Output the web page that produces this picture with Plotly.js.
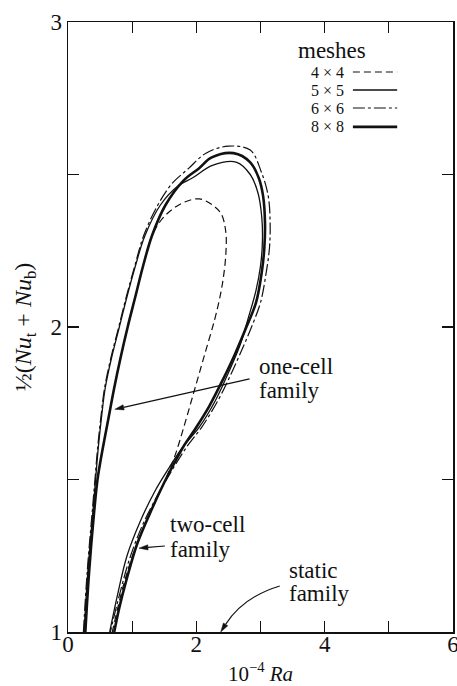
<!DOCTYPE html>
<html>
<head>
<meta charset="utf-8">
<script src="https://cdn.plot.ly/plotly-3.0.1.min.js"></script>
<style>html,body{margin:0;padding:0;background:#fff;}#chart{width:457px;height:686px;}</style>
</head>
<body>
<div id="chart"></div>
<script>
// ---- data ----
const meshLabels = ['4 × 4', '5 × 5', '6 × 6', '8 × 8'];

// 4 x 4 mesh (dashed)
const x4 = [0.27,0.33,0.41,0.46,0.54,0.63,0.72,0.82,0.93,1.05,1.17,1.31,1.45,1.62,1.82,2.05,2.25,2.39,2.46,2.46,2.42,2.36,2.28,2.13,1.98,1.83,1.67,1.50,1.28,1.04,0.86,0.69];
const y4 = [1.00,1.20,1.40,1.50,1.60,1.70,1.80,1.90,2.00,2.10,2.20,2.30,2.35,2.385,2.41,2.42,2.40,2.37,2.31,2.24,2.16,2.09,2.02,1.91,1.80,1.69,1.58,1.49,1.39,1.27,1.15,1.00];

// 5 x 5 mesh (thin solid)
const x5 = [0.25,0.31,0.39,0.43,0.47,0.52,0.58,0.68,0.80,0.92,1.05,1.20,1.44,1.70,1.95,2.25,2.63,2.84,2.96,3.02,3.03,3.00,2.93,2.81,2.68,2.50,2.30,2.04,1.80,1.58,1.35,1.12,0.92,0.77,0.65];
const y5 = [1.00,1.20,1.40,1.50,1.60,1.70,1.80,1.90,2.00,2.10,2.20,2.30,2.40,2.46,2.49,2.53,2.54,2.50,2.44,2.36,2.28,2.20,2.12,2.03,1.94,1.85,1.76,1.67,1.61,1.54,1.46,1.36,1.25,1.12,1.00];

// 6 x 6 mesh (dash-dot)
const x6 = [0.24,0.30,0.38,0.42,0.46,0.51,0.57,0.67,0.79,0.91,1.04,1.18,1.40,1.62,1.88,2.15,2.50,2.84,3.01,3.12,3.15,3.14,3.09,3.00,2.86,2.72,2.55,2.34,2.08,1.86,1.62,1.40,1.16,0.96,0.80,0.66];
const y6 = [1.00,1.20,1.40,1.50,1.60,1.70,1.80,1.90,2.00,2.10,2.20,2.30,2.40,2.47,2.52,2.57,2.593,2.58,2.51,2.43,2.34,2.26,2.18,2.08,2.00,1.93,1.85,1.76,1.67,1.61,1.53,1.45,1.35,1.24,1.12,1.00];

// 8 x 8 mesh (thick solid)
const x8 = [0.27,0.33,0.41,0.46,0.54,0.63,0.72,0.82,0.93,1.05,1.17,1.31,1.52,1.80,2.04,2.24,2.58,2.84,2.97,3.04,3.07,3.06,3.02,2.93,2.78,2.60,2.42,2.20,1.98,1.82,1.66,1.50,1.30,1.08,0.91,0.80,0.72];
const y8 = [1.00,1.20,1.40,1.50,1.60,1.70,1.80,1.90,2.00,2.10,2.20,2.30,2.40,2.48,2.52,2.556,2.57,2.54,2.49,2.43,2.34,2.26,2.18,2.08,2.00,1.91,1.83,1.74,1.665,1.615,1.555,1.49,1.40,1.29,1.17,1.08,1.00];

const xTickVals = [0,2,4,6];
const xTickText = ['0','2','4','6'];
const xMinorVals = [1,3,5];
const yTickVals = [1,2,3];
const yTickText = ['1','2','3'];
const yMinorVals = [1.5,2.5];

const staticOnset = [2.38, 1.0];   // where the static family begins (Ra·1e-4, Nu)

// ---- styles ----
const FONT = 'Liberation Serif, Times New Roman, serif';
const INK = '#111';
const meshStyles = [
  {width: 1.2, dash: '7px,4px'},
  {width: 1.3, dash: 'solid'},
  {width: 1.2, dash: '12px,3px,3px,3px'},
  {width: 2.6, dash: 'solid'}
];
const series = [[x4,y4],[x5,y5],[x6,y6],[x8,y8]];

const traces = series.map((s, i) => ({
  x: s[0], y: s[1], type: 'scatter', mode: 'lines', name: meshLabels[i],
  line: {color: INK, width: meshStyles[i].width, dash: meshStyles[i].dash, shape: 'spline', smoothing: 1},
  showlegend: false, hoverinfo: 'skip'
}));

// plot-area scale (px per data unit) used only to shape arrowheads
const KX = 385 / 6, KY = 610 / 2;
function arrowHead(tipX, tipY, dirX, dirY, len, half) {
  let px = dirX * KX, py = dirY * KY;
  const n = Math.hypot(px, py); px /= n; py /= n;
  const bx = tipX * KX - px * len, by = tipY * KY - py * len;
  const p1 = [(bx - py * half) / KX, (by + px * half) / KY];
  const p2 = [(bx + py * half) / KX, (by - px * half) / KY];
  return {
    head: {type: 'path', xref: 'x', yref: 'y', fillcolor: INK, line: {color: INK, width: 0.5},
      path: `M ${tipX},${tipY} L ${p1[0]},${p1[1]} L ${p2[0]},${p2[1]} Z`},
    base: [bx / KX, by / KY]
  };
}
function straightArrow(tipX, tipY, tailX, tailY) {
  const a = arrowHead(tipX, tipY, tipX - tailX, tipY - tailY, 9, 2.6);
  return [{type: 'line', xref: 'x', yref: 'y', x0: tailX, y0: tailY, x1: a.base[0], y1: a.base[1],
    line: {color: INK, width: 1.1}}, a.head];
}

// ---- legend drawn as annotations + sample lines ----
const legY = [2.836, 2.777, 2.718, 2.656];
const annotations = [];
const shapes = [];
annotations.push({x: 4.11, y: 2.905, xref: 'x', yref: 'y', text: 'meshes', showarrow: false,
  font: {family: FONT, size: 23, color: INK}, xanchor: 'center', yanchor: 'middle'});
meshLabels.forEach((lab, i) => {
  annotations.push({x: 4.33, y: legY[i], xref: 'x', yref: 'y', text: lab, showarrow: false,
    font: {family: FONT, size: 16, color: INK}, xanchor: 'right', yanchor: 'middle'});
  shapes.push({type: 'line', xref: 'x', yref: 'y', x0: 4.44, x1: 5.13, y0: legY[i], y1: legY[i],
    line: {color: INK, width: meshStyles[i].width, dash: meshStyles[i].dash}});
});

// ---- family labels ----
const lab = (x, y, t) => ({x, y, xref: 'x', yref: 'y', text: t, showarrow: false,
  font: {family: FONT, size: 23, color: INK}, xanchor: 'left', yanchor: 'middle'});
annotations.push(lab(2.945, 1.869, 'one-cell'));
annotations.push(lab(2.945, 1.793, 'family'));
annotations.push(lab(1.558, 1.351, 'two-cell'));
annotations.push(lab(1.558, 1.269, 'family'));
annotations.push(lab(3.413, 1.203, 'static'));
annotations.push(lab(3.413, 1.125, 'family'));

// arrows
shapes.push(...straightArrow(0.73, 1.73, 2.83, 1.83));
shapes.push(...straightArrow(1.106, 1.275, 1.51, 1.282));
// curved arrow to the static family
const ctrl = [2.73, 1.115];
const sh = arrowHead(staticOnset[0], staticOnset[1], staticOnset[0] - ctrl[0], staticOnset[1] - ctrl[1], 9, 2.6);
shapes.push({type: 'path', xref: 'x', yref: 'y',
  path: `M 3.30,1.151 Q ${ctrl[0]},${ctrl[1]} ${sh.base[0]},${sh.base[1]}`,
  line: {color: INK, width: 1.1}});
shapes.push(sh.head);

const tickStyle = {ticks: 'inside', ticklen: 11, tickwidth: 1.3, tickcolor: INK};
const axisCommon = Object.assign({
  showgrid: false, zeroline: false, showline: true, linecolor: INK, linewidth: 1.5,
  mirror: 'ticks', tickfont: {family: FONT, size: 23, color: INK}, automargin: false, fixedrange: true,
  ticklabeloverflow: 'allow', tickmode: 'array'
}, tickStyle);

const layout = {
  width: 457, height: 686,
  margin: {l: 68, r: 4, t: 22, b: 54},
  paper_bgcolor: '#fff', plot_bgcolor: '#fff',
  font: {family: FONT, color: INK},
  showlegend: false,
  xaxis: Object.assign({}, axisCommon, {
    range: [0, 6], tickvals: xTickVals, ticktext: xTickText,
    minor: Object.assign({tickmode: 'array', tickvals: xMinorVals, showgrid: false}, tickStyle),
    ticklabelstandoff: -9,
    title: {text: '10<sup>−4</sup> <i>Ra</i>', font: {family: FONT, size: 21, color: INK}, standoff: 18}
  }),
  yaxis: Object.assign({}, axisCommon, {
    range: [1, 3], tickvals: yTickVals, ticktext: yTickText,
    minor: Object.assign({tickmode: 'array', tickvals: yMinorVals, showgrid: false}, tickStyle),
    title: {text: '½(<i>Nu</i><sub>t</sub> + <i>Nu</i><sub>b</sub>)', font: {family: FONT, size: 24, color: INK}, standoff: 12}
  }),
  annotations: annotations,
  shapes: shapes
};

Plotly.newPlot('chart', traces, layout, {staticPlot: true, displayModeBar: false});
</script>
</body>
</html>
